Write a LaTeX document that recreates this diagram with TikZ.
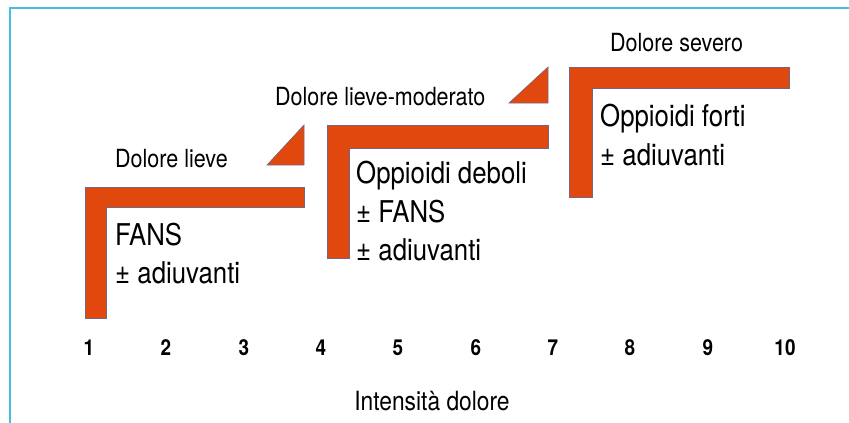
\documentclass[tikz,border=0pt]{standalone}
\usepackage{fontspec}
\setmainfont{TeX Gyre Heros}[FakeStretch=0.86]
\usepackage{tikz}

\definecolor{steporange}{RGB}{224,72,14}
\definecolor{stepedge}{RGB}{120,100,130}
\definecolor{framecyan}{RGB}{70,190,225}

\begin{document}
\begin{tikzpicture}[x=1pt,y=-1pt]
\useasboundingbox (0,0) rectangle (849,423);

% frame
\draw[framecyan, line width=2] (10,423) -- (10,8) -- (849,8);

\begin{scope}[fill=steporange, draw=stepedge, line width=0.6]
    % first step
    \filldraw (85,187) -- (304,187) -- (304,207) -- (106,207) -- (106,318) -- (85,318) -- cycle;
    \filldraw (267,165) -- (304,165) -- (304,125) -- cycle;
    % second step
    \filldraw (327,125) -- (548,125) -- (548,148) -- (349,148) -- (349,258) -- (327,258) -- cycle;
    \filldraw (509,103) -- (548,103) -- (548,67) -- cycle;
    % third step
    \filldraw (569,67) -- (789,67) -- (789,88) -- (592,88) -- (592,197) -- (569,197) -- cycle;
\end{scope}

\begin{scope}[every node/.style={inner sep=0, anchor=base west, font=\fontsize{25}{30}\selectfont}]
    \node (lieve) at (115,167){Dolore lieve};
    \node (moderato) at (275,105){Dolore lieve-moderato};
    \node (severo) at (610,51){Dolore severo};
\end{scope}

\begin{scope}[every node/.style={inner sep=0, anchor=base west, font=\fontsize{30}{36}\selectfont}]
    \node (fans) at (115,245){FANS};
    \node (fansadiu) at (115,283){± adiuvanti};

    \node (deboli) at (356,183){Oppioidi deboli};
    \node (debolifans) at (356,222){± FANS};
    \node (deboliadiu) at (356,260){± adiuvanti};

    \node (forti) at (600,126){Oppioidi forti};
    \node (fortiadiu) at (600,165){± adiuvanti};
\end{scope}

\begin{scope}[every node/.style={inner sep=0, anchor=base, font=\fontsize{22}{26}\selectfont\bfseries}]
    \node (n1) at (89,355){1};
    \node (n2) at (166,355){2};
    \node (n3) at (244,355){3};
    \node (n4) at (321,355){4};
    \node (n5) at (398,355){5};
    \node (n6) at (476,355){6};
    \node (n7) at (553,355){7};
    \node (n8) at (630,355){8};
    \node (n9) at (708,355){9};
    \node (n10) at (785,355){10};
\end{scope}

\node[inner sep=0, anchor=base, font=\fontsize{26.5}{30}\selectfont] (asse) at (432,410){Intensità dolore};

\end{tikzpicture}
\end{document}
